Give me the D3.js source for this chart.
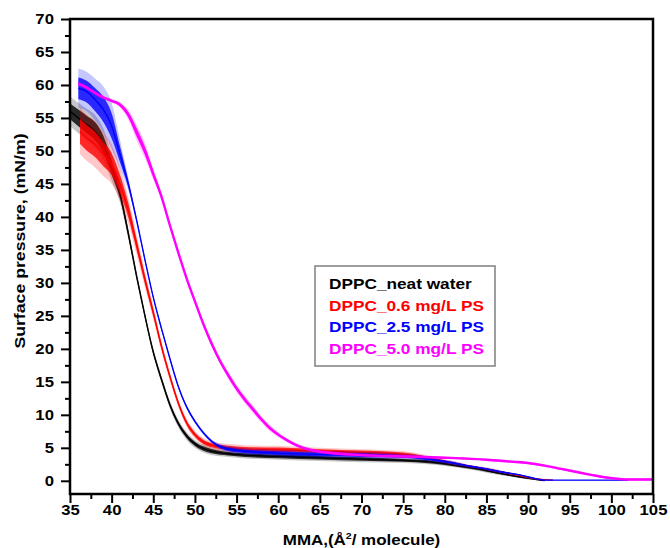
<!DOCTYPE html>
<html><head><meta charset="utf-8">
<script src="https://cdn.jsdelivr.net/npm/d3@7"></script>
<style>
body{margin:0;background:#fff}
text{font-family:"Liberation Sans",Arial,sans-serif;font-weight:bold}
</style>
</head><body>
<svg id="c" width="670" height="548"></svg>
<script>
// ---------- data ----------
const xTicks = [35,40,45,50,55,60,65,70,75,80,85,90,95,100,105];
const yTicks = [0,5,10,15,20,25,30,35,40,45,50,55,60,65,70];
const seriesNames = ["DPPC_neat water","DPPC_0.6 mg/L PS","DPPC_2.5 mg/L PS","DPPC_5.0 mg/L PS"];

const mmaNeat = [35,36,37,38,39,40,41,42,43,44,45,46,47,48,49,50,51,52,54,56,60,65,70,75,78,80,82,84,86,88,90,91,92];
const piNeat  = [56.0,55.0,54.0,53.0,51.0,47.5,43.5,37.5,31.0,25.0,19.5,15.3,11.5,8.7,6.8,5.6,4.9,4.5,4.1,3.9,3.7,3.5,3.3,3.1,2.9,2.6,2.2,1.8,1.3,0.8,0.4,0.2,0.05];
const sdNeat  = [2.2,2.3,2.4,2.5,2.4,2.0,1.3,0.9,0.7,0.6,0.6,0.6,0.6,0.6,0.6,0.6,0.6,0.6,0.5,0.5,0.5,0.5,0.5,0.4,0.4,0.35,0.3,0.3,0.3,0.2,0.2,0.1,0.05];

const mma06 = [36.2,37,38,39,40,41,42,43,44,45,46,47,48,49,50,51,52,54,56,60,65,70,75,77,79,81,83,85,87,89,91,93];
const pi06  = [53.0,52.0,51.0,49.5,48.0,45.0,41.0,35.8,30.5,25.5,20.3,15.8,11.8,8.8,7.0,5.9,5.4,5.0,4.8,4.7,4.5,4.3,4.0,3.7,3.2,2.7,2.2,1.8,1.3,0.8,0.3,0.1];
const sd06  = [3.5,3.5,3.5,3.3,3.0,2.5,2.0,1.5,1.2,1.0,0.8,0.7,0.6,0.6,0.6,0.6,0.6,0.6,0.6,0.6,0.5,0.5,0.5,0.4,0.3,0.3,0.2,0.2,0.2,0.1,0.1,0.05];

const mma25 = [36,37,38,39,40,41,42,43,44,45,46,47,48,49,50,51,52,53,55,60,65,70,75,77,79,81,83,85,87,89,91,92,95,100,102];
const pi25  = [59.5,59.0,57.8,56.3,53.8,49.5,45.0,39.5,33.5,27.8,23.0,18.5,14.3,11.2,9.0,7.3,6.0,5.2,4.6,4.2,4.0,3.9,3.7,3.5,3.1,2.7,2.2,1.8,1.3,0.9,0.3,0.1,0.1,0.1,0.1];
const sd25  = [3.0,3.0,3.2,3.5,3.5,2.2,1.0,0.5,0.35,0.3,0.3,0.3,0.3,0.3,0.3,0.3,0.3,0.4,0.5,0.5,0.5,0.5,0.4,0.4,0.3,0.3,0.2,0.2,0.2,0.1,0.1,0.05,0.02,0.02,0.02];

const mma50 = [36,37,38,39,40,41,42,43,44,45,46,47,48,49,50,51,52,53,54,55,56,57,58,59,60,61,62,63,65,70,75,80,85,88,90,92,94,96,98,100,102,105];
const pi50  = [60.2,59.6,58.8,58.1,57.6,57.0,55.5,52.8,50.0,46.5,43.0,38.7,34.6,30.7,27.2,23.8,20.8,18.2,16.0,14.0,12.3,10.8,9.3,8.0,7.0,6.2,5.5,5.0,4.4,3.9,3.7,3.5,3.2,2.9,2.7,2.3,1.8,1.3,0.8,0.4,0.2,0.2];
const sd50  = [0.3,0.3,0.3,0.3,0.3,0.4,0.8,1.2,1.2,0.9,0.5,0.4,0.4,0.4,0.4,0.4,0.5,0.5,0.6,0.6,0.6,0.6,0.5,0.5,0.4,0.3,0.3,0.3,0.25,0.25,0.25,0.2,0.2,0.2,0.2,0.2,0.2,0.2,0.2,0.2,0.2,0.2];

const colors = ["#000000","#ff0000","#0000ff","#ff00ff"];

// ---------- layout ----------
const svg = d3.select("#c");
const L = 70, R = 653, T = 19, B = 494;
const x = d3.scaleLinear().domain([35,105]).range([L,R]);
const y = d3.scaleLinear().domain([-2,70]).range([B,T]);
const SX = 1.15;

svg.append("defs").append("clipPath").attr("id","clip")
  .append("rect").attr("x",L).attr("y",T).attr("width",R-L).attr("height",B-T);

const series = [
  {mma:mmaNeat, pi:piNeat, sd:sdNeat, w:1.4},
  {mma:mma06,  pi:pi06,  sd:sd06,  w:1.4},
  {mma:mma25,  pi:pi25,  sd:sd25,  w:1.4},
  {mma:mma50,  pi:pi50,  sd:sd50,  w:2.4}
];

const plot = svg.append("g").attr("clip-path","url(#clip)");
series.forEach((s,i)=>{
  const pts = s.mma.map((m,j)=>({m, p:s.pi[j], d:s.sd[j]}));
  const outer = d3.area().curve(d3.curveMonotoneX).x(d=>x(d.m)).y0(d=>y(d.p-d.d)).y1(d=>y(d.p+d.d));
  const inner = d3.area().curve(d3.curveMonotoneX).x(d=>x(d.m)).y0(d=>y(d.p-d.d*0.55)).y1(d=>y(d.p+d.d*0.55));
  const line = d3.line().curve(d3.curveMonotoneX).x(d=>x(d.m)).y(d=>y(d.p));
  plot.append("path").datum(pts).attr("d",outer).attr("fill",colors[i]).attr("opacity",0.22);
  plot.append("path").datum(pts).attr("d",inner).attr("fill",colors[i]).attr("opacity",0.8);
  plot.append("path").datum(pts).attr("d",line).attr("fill","none").attr("stroke",colors[i]).attr("stroke-width",s.w);
});

// ---------- axes ----------
const fmt = d3.format("d");
const gx = svg.append("g").attr("transform",`translate(0,${B})`)
  .call(d3.axisBottom(x).tickValues(xTicks).tickSize(9).tickPadding(2).tickFormat(fmt));
const gxm = svg.append("g").attr("transform",`translate(0,${B})`)
  .call(d3.axisBottom(x).tickValues(xTicks.slice(0,-1).map(v=>v+2.5)).tickSize(5).tickFormat(""));
const gy = svg.append("g").attr("transform",`translate(${L},0)`)
  .call(d3.axisLeft(y).tickValues(yTicks).tickSize(9).tickPadding(5).tickFormat(fmt));
const gym = svg.append("g").attr("transform",`translate(${L},0)`)
  .call(d3.axisLeft(y).tickValues(yTicks.slice(0,-1).map(v=>v+2.5)).tickSize(5).tickFormat(""));
[gx,gxm,gy,gym].forEach(g=>{
  g.select(".domain").remove();
  g.selectAll(".tick line").attr("stroke","#000").attr("stroke-width",2);
  g.selectAll(".tick text").attr("fill","#000").style("font-size","14.5px")
   .attr("transform",`scale(${SX},1)`);
});

// frame
svg.append("rect").attr("x",L).attr("y",T).attr("width",R-L).attr("height",B-T)
  .attr("fill","none").attr("stroke","#000").attr("stroke-width",2.5);

// axis titles
const xt = svg.append("g").attr("transform",`translate(${(L+R)/2},545) scale(1.17,1)`)
  .append("text").attr("text-anchor","middle").style("font-size","14.5px");
xt.append("tspan").text("MMA,(Å");
xt.append("tspan").text("2").attr("dy",-6).style("font-size","9px");
xt.append("tspan").text("/ molecule)").attr("dy",6);

svg.append("g").attr("transform","translate(25,241) rotate(-90) scale(1.18,1)")
  .append("text").attr("text-anchor","middle").style("font-size","15px")
  .text("Surface pressure, (mN/m)");

// legend
svg.append("rect").attr("x",315).attr("y",266).attr("width",180).attr("height",100)
  .attr("fill","#fff").attr("stroke","#7f7f7f").attr("stroke-width",1.5);
seriesNames.forEach((n,i)=>{
  svg.append("g").attr("transform",`translate(329,${289+i*21.7}) scale(1.19,1)`)
    .append("text").attr("fill",colors[i]).style("font-size","14.5px").text(n);
});
</script>
</body></html>
